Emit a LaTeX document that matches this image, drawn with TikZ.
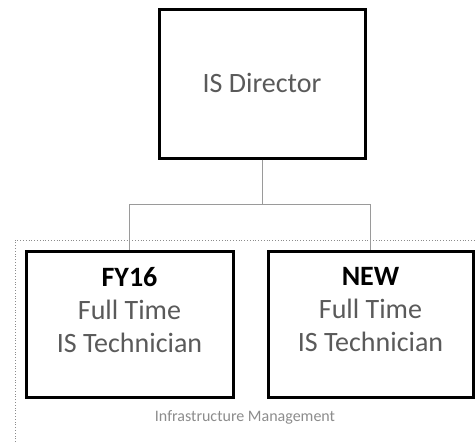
\documentclass[tikz,border=0pt]{standalone}
\usepackage{fontspec}
\setmainfont{Carlito}
\definecolor{txtgray}{HTML}{5A5A5A}
\definecolor{lightgray2}{HTML}{8C8C8C}
\definecolor{conngray}{HTML}{9A9A9A}
\begin{document}
\begin{tikzpicture}[x=1pt,y=-1pt,
  posbox/.style={draw=black,line width=3pt,fill=white,inner sep=0pt},
  bigtext/.style={font=\fontsize{28}{33}\selectfont,text=txtgray,align=center,inner sep=0pt},
  conn/.style={draw=conngray,line width=0.8pt},
  grp/.style={draw=lightgray2,line width=0.8pt,dotted}]
\useasboundingbox (0,0) rectangle (476,442);
% group boundary
\coordinate (g1) at (15,442);
\coordinate (g2) at (15,240);
\coordinate (g3) at (476,240);
\draw[grp] (g1) -- (g2) -- (g3);
% boxes
\node[posbox,minimum width=206pt,minimum height=149pt] (dir) at (262,83.5) {};
\node[posbox,minimum width=207pt,minimum height=146pt] (fy) at (129.5,324) {};
\node[posbox,minimum width=205pt,minimum height=146pt] (new) at (370.5,324) {};
% texts
\node[bigtext] (dirt) at (262,83) {IS Director};
\node[bigtext] (fyt) at (129.5,310) {\textcolor{black}{\textbf{FY16}}\\Full Time\\IS Technician};
\node[bigtext] (newt) at (370.5,310) {\textcolor{black}{\textbf{NEW}}\\Full Time\\IS Technician};
\node[font=\fontsize{16}{19}\selectfont,text=lightgray2,inner sep=0pt] (lab) at (245,417) {Infrastructure Management};
% connectors
\coordinate (j) at (262,204);
\draw[conn] (dir.south) -- (j) -| (fy.north);
\draw[conn] (j) -| (new.north);
\end{tikzpicture}
\end{document}
